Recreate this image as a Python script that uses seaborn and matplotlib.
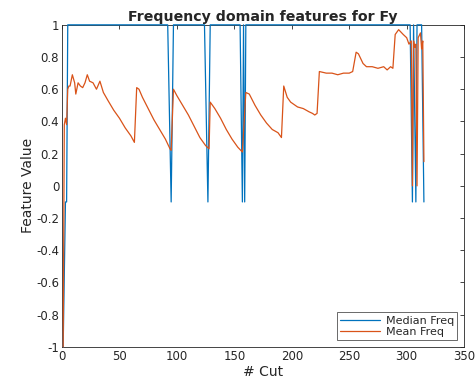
import matplotlib
matplotlib.use("Agg")
import matplotlib.pyplot as plt
import seaborn as sns
import pandas as pd

# Median frequency (blue) vertices
median_x = [1, 3, 4, 5, 92, 95, 97, 124, 127, 129, 155, 157, 158, 159, 160,
            303, 305, 306, 308, 309, 313, 315]
median_y = [-1, -0.1, -0.1, 1, 1, -0.1, 1, 1, -0.1, 1, 1, -0.1, 1, -0.1, 1,
            1, -0.1, 1, -0.1, 1, 1, -0.1]

# Mean frequency (orange) vertices
mean_x = [1, 2, 3, 4, 5, 6, 7, 9, 11, 12, 14, 16, 18, 20, 22, 24, 27, 30, 33, 36,
          40, 45, 50, 55, 60, 63, 65, 67, 70, 75, 80, 85, 90, 94, 95,
          97, 100, 105, 110, 115, 120, 125, 128,
          129, 133, 138, 143, 148, 153, 157,
          160, 163, 168, 173, 178, 183, 188, 191,
          193, 196, 199, 205, 210, 215, 218, 220, 222,
          224, 230, 235, 240, 245, 250, 253, 256, 258, 262, 265, 270, 275, 280, 283, 286, 288,
          290, 293, 297, 300, 302, 304, 305, 306, 307, 308, 309, 310, 312, 313, 314, 315]
mean_y = [-1, 0.38, 0.42, 0.38, 0.60, 0.62, 0.62, 0.69, 0.64, 0.57, 0.64, 0.62, 0.61, 0.64, 0.69, 0.65, 0.64, 0.60, 0.65, 0.58,
          0.53, 0.47, 0.42, 0.36, 0.31, 0.27, 0.61, 0.60, 0.55, 0.48, 0.41, 0.35, 0.29, 0.23, 0.22,
          0.60, 0.56, 0.50, 0.44, 0.37, 0.30, 0.25, 0.23,
          0.52, 0.48, 0.42, 0.35, 0.29, 0.24, 0.21,
          0.58, 0.57, 0.50, 0.44, 0.39, 0.35, 0.33, 0.30,
          0.62, 0.55, 0.52, 0.49, 0.48, 0.46, 0.45, 0.44, 0.45,
          0.71, 0.70, 0.70, 0.69, 0.70, 0.70, 0.71, 0.83, 0.82, 0.76, 0.74, 0.74, 0.73, 0.74, 0.72, 0.74, 0.73,
          0.94, 0.97, 0.94, 0.92, 0.88, 0.90, 0.0, 0.90, 0.86, 0.88, 0.0, 0.92, 0.95, 0.85, 0.90, 0.15]

x_ticks = [0, 50, 100, 150, 200, 250, 300, 350]
y_ticks = [-1, -0.8, -0.6, -0.4, -0.2, 0, 0.2, 0.4, 0.6, 0.8, 1]
y_tick_labels = ["-1", "-0.8", "-0.6", "-0.4", "-0.2", "0", "0.2", "0.4", "0.6", "0.8", "1"]

sns.set_style("white")
plt.rcParams["font.family"] = ["DejaVu Sans"]
plt.rcParams["axes.unicode_minus"] = False

fig = plt.figure(figsize=(4.77, 3.88), dpi=100)
ax = fig.add_axes([0.130, 0.106, 0.843, 0.830])

df_med = pd.DataFrame({"x": median_x, "y": median_y})
df_mean = pd.DataFrame({"x": mean_x, "y": mean_y})
sns.lineplot(data=df_med, x="x", y="y", ax=ax, color="#0072BD", lw=0.9,
             estimator=None, sort=False, label="Median Freq", zorder=4)
sns.lineplot(data=df_mean, x="x", y="y", ax=ax, color="#D95319", lw=0.9,
             estimator=None, sort=False, label="Mean Freq", zorder=5)
for ln in ax.get_lines():
    ln.set_clip_on(False)

ax.set_xlim(0, 350)
ax.set_ylim(-1, 1)
ax.set_xticks(x_ticks)
ax.set_yticks(y_ticks)
ax.set_yticklabels(y_tick_labels)
ax.tick_params(direction="in", top=True, right=True, length=3, width=0.6,
               labelsize=8.5, colors="#262626", pad=2)
for s in ax.spines.values():
    s.set_color("#262626")
    s.set_linewidth(0.6)
    s.set_zorder(2)
ax.set_xlabel("# Cut", fontsize=10, color="#262626", labelpad=2)
ax.set_ylabel("Feature Value", fontsize=10, color="#262626", labelpad=1)
ax.set_title("Frequency domain features for Fy", fontsize=10.2, fontweight="bold", pad=3)

leg = ax.legend(loc="lower right", fontsize=8, handlelength=3.6, frameon=True,
                fancybox=False, edgecolor="#262626", borderaxespad=0.6,
                borderpad=0.3, labelspacing=0.1, handletextpad=0.5)
leg.get_frame().set_linewidth(0.6)
leg.set_zorder(10)

fig.savefig("out.png", dpi=100)
